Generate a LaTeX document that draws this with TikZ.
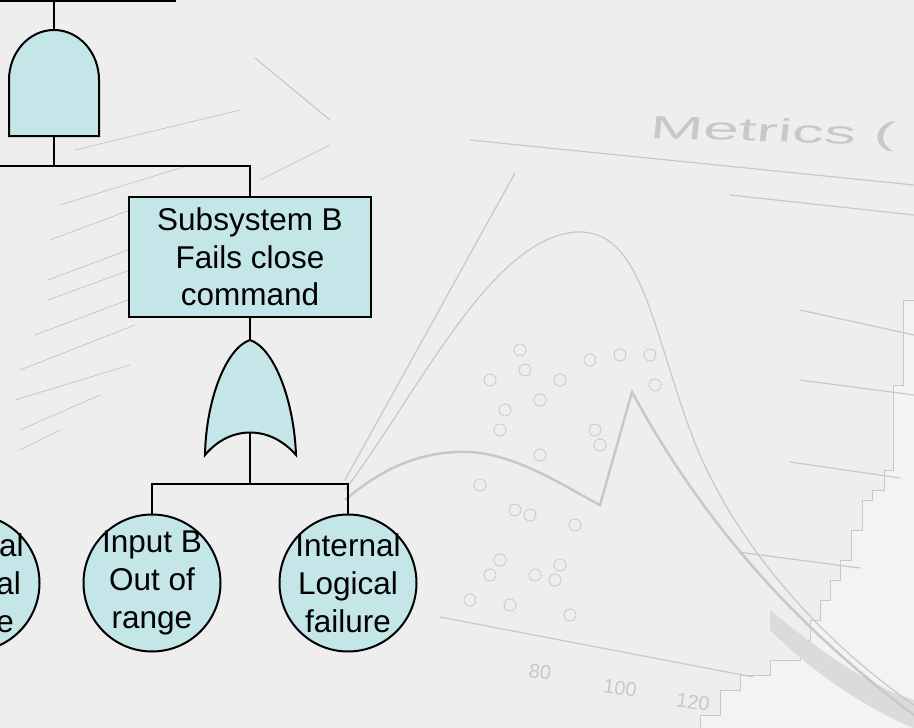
\documentclass[tikz,border=0pt]{standalone}
\usepackage{fontspec}
\setmainfont{Liberation Sans}
\usepackage{tikz}
\usetikzlibrary{positioning}

\definecolor{gatecyan}{RGB}{196,230,232}
\definecolor{backgrey}{RGB}{238,238,238}
\definecolor{lightgrey}{RGB}{243,243,243}
\definecolor{chartgrey}{RGB}{200,200,200}

\begin{document}
\begin{tikzpicture}[x=1pt,y=1pt,
    event/.style={rectangle, draw, line width=2pt, fill=gatecyan, minimum width=242pt, minimum height=120pt, inner sep=0pt, align=center, font=\fontsize{31.5}{37.5}\selectfont},
    basic/.style={circle, draw, line width=2pt, fill=gatecyan, minimum size=137pt, inner sep=-12pt, align=center, font=\fontsize{31.5}{38}\selectfont},
    gate/.style={draw, line width=2pt, fill=gatecyan},
    wire/.style={line width=2pt},
    chart/.style={draw=chartgrey, line width=1.2pt}]
    \useasboundingbox (0,0) rectangle (914,-728);
    \clip (0,0) rectangle (914,-728);
    \fill[backgrey] (0,0) rectangle (914,-728);

    % faded chart behind the tree
    \filldraw[fill=lightgrey, draw=chartgrey, line width=0.8pt] (914,-300) -- (903,-300) -- (903,-385) -- (893,-385) -- (893,-470) -- (884,-470)
        -- (884,-490) -- (872,-490) -- (872,-500) -- (862,-500) -- (862,-530) -- (851,-530) -- (851,-560) -- (840,-560) -- (840,-580) -- (830,-580)
        -- (830,-600) -- (820,-600) -- (820,-620) -- (810,-620) -- (810,-640) -- (800,-640) -- (800,-660) -- (770,-660) -- (770,-675) -- (740,-675)
        -- (740,-690) -- (720,-690) -- (720,-715) -- (700,-715) -- (700,-728) -- (914,-728) -- cycle;
    \fill[gray!28] (770,-610) .. controls (830,-660) and (880,-690) .. (914,-700) -- (914,-728) .. controls (880,-715) and (820,-680) .. (770,-630) -- cycle;
    \draw[chart] (345,-490) .. controls (420,-390) and (490,-240) .. (575,-232) .. controls (640,-228) and (650,-320) .. (690,-430) .. controls (730,-540) and (820,-640) .. (914,-705);
    \draw[chart, line width=2.5pt] (345,-500) .. controls (380,-470) and (420,-450) .. (470,-452) .. controls (520,-455) and (570,-490) .. (600,-505) -- (632,-392) .. controls (680,-480) and (760,-600) .. (914,-715);
    \draw[chart] (515,-173) -- (345,-480);
    \draw[chart] (440,-617) -- (753,-677);
    \draw[chart] (470,-140) -- (914,-185);
    \draw[chart] (730,-195) -- (914,-215);
    \draw[chart] (800,-310) -- (914,-335);
    \draw[chart] (800,-380) -- (914,-395);
    \draw[chart] (790,-462) -- (900,-478);
    \draw[chart] (738,-552) -- (860,-568);
    \draw[chart] (255,-58) -- (330,-120);
    \foreach \sx/\sy/\ex/\ey in {75/-150/240/-110, 60/-205/190/-165, 50/-240/130/-210, 48/-280/128/-250, 48/-300/130/-270, 35/-335/128/-300, 20/-370/135/-325, 15/-400/130/-365, 20/-430/100/-395, 20/-450/60/-430, 260/-180/330/-145}
        \draw[chart, line width=0.8pt] (\sx,\sy) -- (\ex,\ey);
    \foreach \px/\py in {490/-380, 520/-350, 525/-370, 505/-410, 500/-430, 540/-400, 560/-380, 590/-360, 620/-355, 650/-355, 655/-385, 595/-430, 600/-445, 540/-455, 515/-510, 480/-485, 500/-560, 530/-515, 575/-525, 560/-565, 535/-575, 490/-575, 470/-600, 510/-605, 570/-615, 555/-580}
        \draw[chart, line width=0.8pt] (\px,\py) circle (6);
    \node[text=chartgrey, font=\fontsize{32}{32}\selectfont, xscale=2, rotate=-3, anchor=west] (chartname) at (643,-130) {Metrics (};
    \node[text=chartgrey, font=\fontsize{20}{20}\selectfont, rotate=-8] (tickeighty) at (540,-672) {80};
    \node[text=chartgrey, font=\fontsize{20}{20}\selectfont, rotate=-8] (tickhundred) at (620,-688) {100};
    \node[text=chartgrey, font=\fontsize{20}{20}\selectfont, rotate=-8] (tickonetwenty) at (693,-702) {120};

    % fault tree
    \node[event] (topevent) at (54,59) {};
    \node[event] (subb) at (250,-257) {Subsystem B\\Fails close\\command};
    \node[basic] (inputb) at (152,-583) {Input B\\Out of\\range};
    \node[basic] (internalb) at (348,-583) {Internal\\Logical\\failure};
    \node[basic] (internala) at (-29,-583) {Internal\\Logical\\failure};

    % AND gate
    \draw[gate] (9,-136) -- (9,-80) arc[start angle=180, end angle=0, x radius=45, y radius=50] -- (99,-136) -- cycle;
    \coordinate (andtop) at (54,-30);
    \coordinate (andbot) at (54,-136);
    \coordinate (andsplit) at (54,-166);
    \coordinate (offleft) at (-10,-166);

    % OR gate
    \draw[gate] (250,-340) .. controls (226,-348) and (206,-400) .. (205,-455) .. controls (230,-425) and (270,-425) .. (296,-455) .. controls (294,-400) and (274,-348) .. (250,-340) -- cycle;
    \coordinate (ortop) at (250,-340);
    \coordinate (orbot) at (250,-433);
    \coordinate (orsplit) at (250,-484);

    \draw[wire] (topevent.south) -- (andtop);
    \draw[wire] (andbot) -- (andsplit);
    \draw[wire] (offleft) -- (andsplit) -| (subb.north);
    \draw[wire] (subb.south) -- (ortop);
    \draw[wire] (orbot) -- (orsplit);
    \draw[wire] (inputb.north) |- (orsplit) -| (internalb.north);
\end{tikzpicture}
\end{document}
